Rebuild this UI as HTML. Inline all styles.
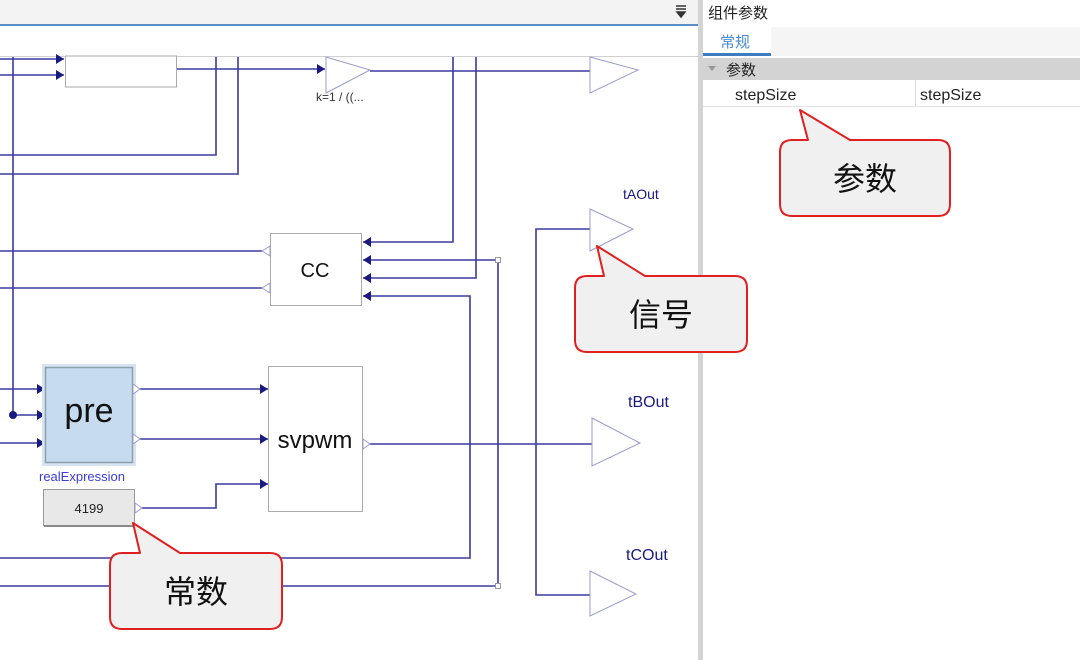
<!DOCTYPE html>
<html><head><meta charset="utf-8"><style>
html,body{margin:0;padding:0;background:#fff;}
svg{display:block;}
text{font-family:"Liberation Sans","Noto Sans CJK SC",sans-serif;}
</style></head><body>
<svg width="1080" height="660" viewBox="0 0 1080 660" xmlns="http://www.w3.org/2000/svg">
<defs>
<marker id="a" markerWidth="8" markerHeight="10" refX="8" refY="5" orient="auto" markerUnits="userSpaceOnUse"><path d="M0,0 L8,5 L0,10 Z" fill="#1a1a80"/></marker>
</defs>
<rect x="0" y="0" width="1080" height="660" fill="#fff"/>
<!-- top bar -->
<rect x="0" y="0" width="698" height="24" fill="#f3f3f3"/>
<rect x="0" y="24" width="698" height="2" fill="#5b8fc7"/>
<path d="M676,6 h10 M676,9 h10 M677,12 l4,5 l4,-5 z" stroke="#333" fill="#333" stroke-width="1.5"/>
<line x1="0" y1="56.5" x2="698" y2="56.5" stroke="#d0d0d0"/>
<!-- wires -->
<g stroke="#3a3aa0" stroke-width="1.6" fill="none">
<line x1="13" y1="57" x2="13" y2="415"/>
<line x1="0" y1="59" x2="64" y2="59" marker-end="url(#a)"/>
<line x1="0" y1="75" x2="64" y2="75" marker-end="url(#a)"/>
<line x1="177" y1="69" x2="325" y2="69" marker-end="url(#a)"/>
<line x1="370" y1="71" x2="590" y2="71"/>
<polyline points="216,57 216,155 0,155"/>
<polyline points="238,57 238,174 0,174"/>
<polyline points="453,57 453,242 363,242" marker-end="url(#a)"/>
<polyline points="476,57 476,278 363,278" marker-end="url(#a)"/>
<polyline points="498,260 363,260" marker-end="url(#a)"/>
<polyline points="498,260 498,586 0,586"/>
<polyline points="0,558 470,558 470,296 363,296" marker-end="url(#a)"/>
<line x1="0" y1="251" x2="262" y2="251"/>
<line x1="0" y1="288" x2="262" y2="288"/>
<polyline points="590,229 536,229 536,595 590,595"/>
<line x1="0" y1="389" x2="45" y2="389" marker-end="url(#a)"/>
<line x1="13" y1="415" x2="45" y2="415" marker-end="url(#a)"/>
<line x1="0" y1="443" x2="45" y2="443" marker-end="url(#a)"/>
<line x1="140" y1="389" x2="268" y2="389" marker-end="url(#a)"/>
<line x1="140" y1="439" x2="268" y2="439" marker-end="url(#a)"/>
<polyline points="142,508 216,508 216,484 268,484" marker-end="url(#a)"/>
<line x1="370" y1="444" x2="592" y2="444"/>
</g>
<circle cx="13" cy="415" r="4" fill="#1a1a80"/>
<rect x="495.5" y="257.5" width="5" height="5" fill="#fff" stroke="#999"/>
<rect x="495.5" y="583.5" width="5" height="5" fill="#fff" stroke="#999"/>
<!-- blocks -->
<rect x="65.5" y="56" width="111" height="31" fill="#fff" stroke="#aaa"/>
<polygon points="326,57 370,70 326,93" fill="#fff" stroke="#9a9acc"/>
<text x="316" y="101" font-size="12" fill="#333">k=1 / ((...</text>
<polygon points="590,57 638,70 590,93" fill="#fff" stroke="#9a9acc"/>
<rect x="270.5" y="233.5" width="91" height="72" fill="#fff" stroke="#aaa"/>
<text x="315" y="277" font-size="20" text-anchor="middle" fill="#111">CC</text>
<polygon points="262,251 270,246 270,256" fill="#fff" stroke="#9a9acc"/>
<polygon points="262,288 270,283 270,293" fill="#fff" stroke="#9a9acc"/>
<text x="623" y="199" font-size="14" fill="#1a1a80">tAOut</text>
<polygon points="590,209 633,229 590,251" fill="#fff" stroke="#9a9acc"/>
<rect x="42" y="364" width="94" height="102" fill="#d6e4f2"/>
<rect x="45.5" y="367.5" width="87" height="95" fill="#c7dbee" stroke="#8b9fae" stroke-width="1.5"/>
<text x="89" y="422" font-size="34" text-anchor="middle" fill="#111">pre</text>
<polygon points="133,384 140,389 133,394" fill="#fff" stroke="#9a9acc"/>
<polygon points="133,434 140,439 133,444" fill="#fff" stroke="#9a9acc"/>
<text x="39" y="481" font-size="13" fill="#3a3ae0">realExpression</text>
<rect x="43.5" y="489.5" width="91" height="36" fill="#e8e8e8" stroke="#999"/>
<line x1="44" y1="526" x2="135" y2="526" stroke="#888" stroke-width="2"/>
<text x="89" y="513" font-size="13" text-anchor="middle" fill="#222">4199</text>
<polygon points="135,503 142,508 135,513" fill="#fff" stroke="#9a9acc"/>
<rect x="268.5" y="366.5" width="94" height="145" fill="#fff" stroke="#aaa"/>
<text x="315" y="448" font-size="24" text-anchor="middle" fill="#111">svpwm</text>
<polygon points="363,439 370,444 363,449" fill="#fff" stroke="#9a9acc"/>
<text x="628" y="407" font-size="16" fill="#1a1a80">tBOut</text>
<polygon points="592,418 640,443 592,466" fill="#fff" stroke="#9a9acc"/>
<text x="626" y="560" font-size="16" fill="#1a1a80">tCOut</text>
<polygon points="590,571 636,594 590,616" fill="#fff" stroke="#9a9acc"/>
<!-- right panel -->
<rect x="698" y="0" width="5" height="660" fill="#d4d4d4"/>
<text x="708" y="18" font-size="15" fill="#222">组件参数</text>
<rect x="703" y="27" width="377" height="29" fill="#f5f5f5"/>
<rect x="703" y="27" width="68" height="29" fill="#fff"/>
<text x="720" y="47" font-size="15" fill="#4a8ad0">常规</text>
<rect x="703" y="53" width="68" height="3" fill="#3d7cc0"/>
<rect x="703" y="58" width="377" height="22" fill="#d3d3d3"/>
<polygon points="708,66 716,66 712,71" fill="#999"/>
<text x="726" y="75" font-size="15" fill="#222">参数</text>
<text x="735" y="100" font-size="16" fill="#222">stepSize</text>
<line x1="915.5" y1="80" x2="915.5" y2="106" stroke="#ddd"/>
<text x="920" y="100" font-size="16" fill="#222">stepSize</text>
<line x1="703" y1="106.5" x2="1080" y2="106.5" stroke="#e2e2e2"/>
<!-- callouts -->
<g fill="#f0f0f0" stroke="#e02020" stroke-width="2" stroke-linejoin="round">
<path d="M792,140 H808 L800,110 L850,140 H938 Q950,140 950,152 V204 Q950,216 938,216 H792 Q780,216 780,204 V152 Q780,140 792,140 Z"/>
<path d="M587,276 H604 L597,246 L645,276 H735 Q747,276 747,288 V340 Q747,352 735,352 H587 Q575,352 575,340 V288 Q575,276 587,276 Z"/>
<path d="M122,553 H140 L133,523 L180,553 H270 Q282,553 282,565 V617 Q282,629 270,629 H122 Q110,629 110,617 V565 Q110,553 122,553 Z"/>
</g>
<text x="865" y="190" font-size="32" text-anchor="middle" fill="#111">参数</text>
<text x="661" y="326" font-size="32" text-anchor="middle" fill="#111">信号</text>
<text x="196" y="603" font-size="32" text-anchor="middle" fill="#111">常数</text>
</svg>
</body></html>
